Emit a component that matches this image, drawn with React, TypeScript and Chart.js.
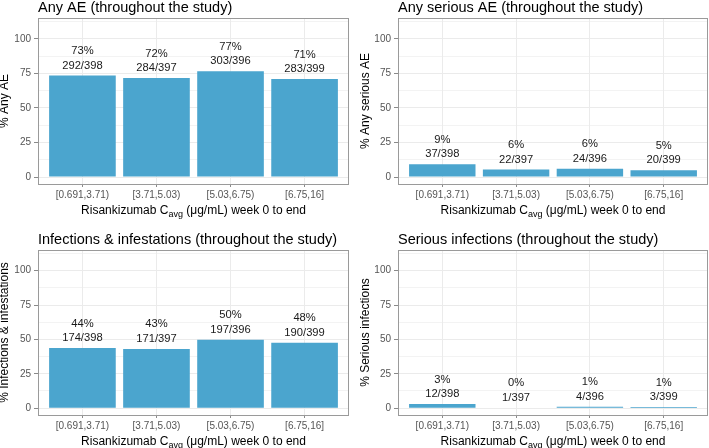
import React, { useEffect, useRef } from 'react';
import { Chart, registerables } from 'chart.js';

Chart.register(...registerables);

const FONT = "'Liberation Sans', Arial, Helvetica, sans-serif";

const CATEGORIES = ['[0.691,3.71)', '[3.71,5.03)', '[5.03,6.75)', '[6.75,16]'];
const Y_MAJOR = [0, 25, 50, 75, 100];
const Y_MINOR = [12.5, 37.5, 62.5, 87.5, 112.5];

const ANY_AE_N = [292, 284, 303, 283];
const ANY_AE_TOTAL = [398, 397, 396, 399];
const SERIOUS_AE_N = [37, 22, 24, 20];
const SERIOUS_AE_TOTAL = [398, 397, 396, 399];
const INFECTIONS_N = [174, 171, 197, 190];
const INFECTIONS_TOTAL = [398, 397, 396, 399];
const SERIOUS_INF_N = [12, 1, 4, 3];
const SERIOUS_INF_TOTAL = [398, 397, 396, 399];

const BAR_COLOR = '#4BA5CE';
const GRID_COLOR = '#EBEBEB';
const BORDER_COLOR = '#9a9a9a';
const TICK_TEXT = '#555555';

type Area = { l: number; r: number; t: number; b: number };

type PanelProps = {
  title: string;
  yTitle: string;
  n: number[];
  total: number[];
  left: number;
  top: number;
  width: number;
  height: number;
  area: Area;
  yTitleX: number;
};

function Panel(props: PanelProps) {
  const ref = useRef<HTMLCanvasElement | null>(null);
  const { title, yTitle, n, total, left, top, width, height, area, yTitleX } = props;

  useEffect(() => {
    if (!ref.current) return;
    const pct = n.map((v, i) => (v / total[i]) * 100);

    const decor = {
      id: 'decor',
      afterDraw(chart: any) {
        const ctx = chart.ctx as CanvasRenderingContext2D;
        const ca = chart.chartArea;
        ctx.save();
        // panel border
        ctx.strokeStyle = BORDER_COLOR;
        ctx.lineWidth = 1;
        ctx.strokeRect(Math.round(ca.left) + 0.5, Math.round(ca.top) + 0.5, Math.round(ca.right - ca.left) - 1, Math.round(ca.bottom - ca.top));

        // bar labels
        ctx.fillStyle = '#1a1a1a';
        ctx.font = `11.2px ${FONT}`;
        ctx.textAlign = 'center';
        ctx.textBaseline = 'middle';
        const meta = chart.getDatasetMeta(0);
        meta.data.forEach((bar: any, i: number) => {
          const p = Math.round(pct[i]);
          ctx.fillText(`${p}%`, bar.x, bar.y - 24.5);
          ctx.fillText(`${n[i]}/${total[i]}`, bar.x, bar.y - 10);
        });

        // title
        ctx.fillStyle = '#000';
        ctx.font = `14.5px ${FONT}`;
        ctx.textAlign = 'left';
        ctx.textBaseline = 'alphabetic';
        ctx.fillText(title, ca.left, ca.top - 6);

        // y title
        ctx.save();
        ctx.font = `12px ${FONT}`;
        ctx.textAlign = 'center';
        ctx.textBaseline = 'middle';
        ctx.translate(yTitleX, (ca.top + ca.bottom) / 2);
        ctx.rotate(-Math.PI / 2);
        ctx.fillText(yTitle, 0, 0);
        ctx.restore();

        // x title with subscript
        const p1 = 'Risankizumab C';
        const sub = 'avg';
        const p2 = ' (\u03BCg/mL) week 0 to end';
        ctx.font = `12px ${FONT}`;
        const w1 = ctx.measureText(p1).width;
        const w3 = ctx.measureText(p2).width;
        ctx.font = `9px ${FONT}`;
        const w2 = ctx.measureText(sub).width;
        const totalW = w1 + w2 + w3;
        const x0 = (ca.left + ca.right) / 2 - totalW / 2;
        const base = ca.bottom + 29.5;
        ctx.textAlign = 'left';
        ctx.textBaseline = 'alphabetic';
        ctx.font = `12px ${FONT}`;
        ctx.fillText(p1, x0, base);
        ctx.font = `9px ${FONT}`;
        ctx.fillText(sub, x0 + w1, base + 3);
        ctx.font = `12px ${FONT}`;
        ctx.fillText(p2, x0 + w1 + w2, base);
        ctx.restore();
      },
    };

    const chart = new Chart(ref.current, {
      type: 'bar',
      data: {
        datasets: [
          {
            data: pct.map((v, i) => ({ x: i + 1, y: v })),
            backgroundColor: BAR_COLOR,
            borderWidth: 0,
            barPercentage: 0.9,
            categoryPercentage: 1,
          },
        ],
      },
      options: {
        responsive: false,
        animation: false,
        devicePixelRatio: 1,
        layout: {
          padding: { left: 0, top: area.t, right: width - area.r, bottom: 0 },
        },
        plugins: {
          legend: { display: false },
          tooltip: { enabled: false },
          title: { display: false },
        },
        scales: {
          x: {
            type: 'linear',
            min: 0.4,
            max: 4.6,
            offset: false,
            afterBuildTicks: (scale: any) => {
              scale.ticks = CATEGORIES.map((_, i) => ({ value: i + 1 }));
            },
            afterFit: (scale: any) => {
              scale.height = height - area.b;
            },
            ticks: {
              autoSkip: false,
              maxRotation: 0,
              padding: 2,
              color: TICK_TEXT,
              font: { family: FONT, size: 10 },
              callback: (v: any) => CATEGORIES[Math.round(Number(v)) - 1] ?? '',
            },
            grid: {
              offset: false,
              color: GRID_COLOR,
              lineWidth: 1,
              tickLength: 3,
              tickColor: '#8a8a8a',
            },
            border: { display: false },
          },
          y: {
            type: 'linear',
            min: -5,
            max: 115,
            afterBuildTicks: (scale: any) => {
              scale.ticks = [...Y_MAJOR, ...Y_MINOR].sort((a, b) => a - b).map((v) => ({ value: v }));
            },
            afterFit: (scale: any) => {
              scale.width = area.l;
            },
            ticks: {
              autoSkip: false,
              padding: 3,
              color: TICK_TEXT,
              font: { family: FONT, size: 10 },
              callback: (v: any) => (Y_MAJOR.includes(Number(v)) ? String(v) : ''),
            },
            grid: {
              color: GRID_COLOR,
              lineWidth: (c: any) => (c.tick && Y_MAJOR.includes(c.tick.value) ? 1 : 0.6),
              tickLength: 4,
              tickColor: (c: any) => (c.tick && Y_MAJOR.includes(c.tick.value) ? '#8a8a8a' : 'rgba(0,0,0,0)'),
            },
            border: { display: false },
          },
        },
      },
      plugins: [decor],
    } as any);

    return () => chart.destroy();
  }, []);

  return (
    <canvas
      ref={ref}
      width={width}
      height={height}
      style={{ position: 'absolute', left, top, width, height, display: 'block' }}
    />
  );
}

export default function App() {
  return (
    <div style={{ position: 'absolute', left: 0, top: 0, width: 709, height: 448, background: '#fff', overflow: 'hidden' }}>
      <Panel
        title="Any AE (throughout the study)"
        yTitle="% Any AE"
        n={ANY_AE_N}
        total={ANY_AE_TOTAL}
        left={0}
        top={0}
        width={354}
        height={220}
        area={{ l: 38, r: 349, t: 18, b: 184 }}
        yTitleX={5}
      />
      <Panel
        title="Any serious AE (throughout the study)"
        yTitle="% Any serious AE"
        n={SERIOUS_AE_N}
        total={SERIOUS_AE_TOTAL}
        left={354}
        top={0}
        width={355}
        height={220}
        area={{ l: 44, r: 354, t: 18, b: 184 }}
        yTitleX={12}
      />
      <Panel
        title="Infections & infestations (throughout the study)"
        yTitle="% Infections & infestations"
        n={INFECTIONS_N}
        total={INFECTIONS_TOTAL}
        left={0}
        top={220}
        width={354}
        height={228}
        area={{ l: 38, r: 349, t: 30, b: 195 }}
        yTitleX={5}
      />
      <Panel
        title="Serious infections (throughout the study)"
        yTitle="% Serious infections"
        n={SERIOUS_INF_N}
        total={SERIOUS_INF_TOTAL}
        left={354}
        top={220}
        width={355}
        height={228}
        area={{ l: 44, r: 354, t: 30, b: 195 }}
        yTitleX={12}
      />
    </div>
  );
}
